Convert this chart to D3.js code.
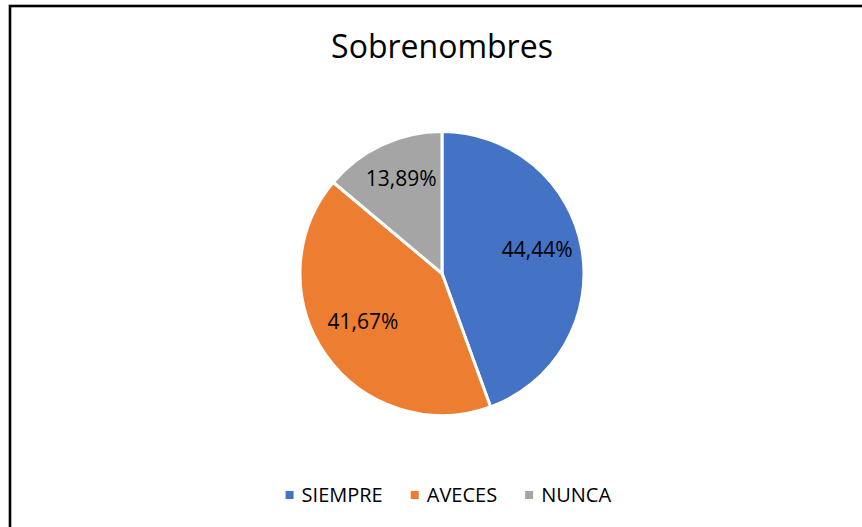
<!DOCTYPE html>
<html>
<head>
<meta charset="utf-8">
<script src="https://cdn.jsdelivr.net/npm/d3@7"></script>
<style>
  html, body { margin: 0; padding: 0; background: #fff; }
  svg { display: block; }
  text { font-family: "Open Sans", sans-serif; fill: #000; }
</style>
</head>
<body>
<svg id="chart" width="862" height="527"></svg>
<script>
const title = "Sobrenombres";
const categories = ["SIEMPRE", "AVECES", "NUNCA"];
const values = [44.44, 41.67, 13.89];
const colors = ["#4472C4", "#ED7D31", "#A5A5A5"];

const W = 862, H = 527;
const svg = d3.select("#chart");

// outer frame
svg.append("rect")
  .attr("x", 10).attr("y", 6)
  .attr("width", 1000).attr("height", 700)
  .attr("fill", "#fff")
  .attr("stroke", "#000")
  .attr("stroke-width", 2.6);

svg.append("text")
  .attr("x", 442).attr("y", 58)
  .attr("text-anchor", "middle")
  .attr("font-size", 32)
  .text(title);

const cx = 442, cy = 273.5, r = 142;
const data = categories.map((c, i) => ({ cat: c, value: values[i], color: colors[i] }));

const pie = d3.pie().value(d => d.value).sort(null);
const arc = d3.arc().innerRadius(0).outerRadius(r);
const labelArc = d3.arc().innerRadius(r * 0.68).outerRadius(r * 0.68);

const g = svg.append("g").attr("transform", `translate(${cx},${cy})`);
const arcs = pie(data);

g.selectAll("path").data(arcs).enter().append("path")
  .attr("d", arc)
  .attr("fill", d => d.data.color)
  .attr("stroke", "#fff")
  .attr("stroke-width", 3)
  .attr("stroke-linejoin", "round");

const fmt = v => v.toFixed(2).replace(".", ",") + "%";
g.selectAll("text.lbl").data(arcs).enter().append("text")
  .attr("class", "lbl")
  .attr("transform", d => `translate(${labelArc.centroid(d)})`)
  .attr("text-anchor", "middle")
  .attr("dy", "0.02em")
  .attr("font-size", 21)
  .text(d => fmt(d.data.value));

// legend
const legend = svg.append("g");
const items = legend.selectAll("g").data(data).enter().append("g");
items.append("rect").attr("width", 8).attr("height", 8).attr("y", -4)
  .attr("fill", d => d.color);
items.append("text").attr("x", 16).attr("dy", "0.36em")
  .attr("font-size", 20)
  .text(d => d.cat);
let x = 0;
items.each(function() {
  const w = this.getBBox().width;
  d3.select(this).attr("transform", `translate(${x},0)`);
  x += w + 28;
});
const total = x - 28;
legend.attr("transform", `translate(${448.5 - total / 2},495)`);
</script>
</body>
</html>
